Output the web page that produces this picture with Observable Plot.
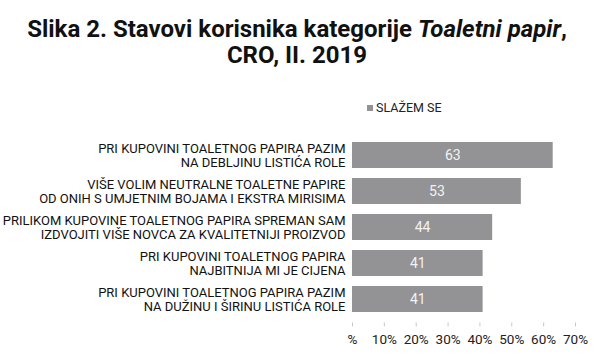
<!DOCTYPE html>
<html>
<head>
<meta charset="utf-8">
<script src="https://cdn.jsdelivr.net/npm/d3@7"></script>
<script src="https://cdn.jsdelivr.net/npm/@observablehq/plot@0.6"></script>
<style>
  html, body { margin: 0; padding: 0; background: #fff; }
  #wrap { position: relative; width: 594px; height: 364px; overflow: hidden; background: #fff; }
  #title { position: absolute; left: 0; top: 16px; width: 594px; text-align: center;
    font-family: Roboto, "Liberation Sans", sans-serif; font-weight: 700; font-size: 24px;
    line-height: 26px; color: #111; }
  #legend { position: absolute; left: 367px; top: 100px; font-family: Roboto, "Liberation Sans", sans-serif;
    font-size: 12.5px; color: #222; display: flex; align-items: center; }
  #legend span.sw { display: inline-block; width: 6px; height: 6px; background: #939396; margin-right: 3px; }
  #chart { position: absolute; left: 0; top: 95px; }
</style>
</head>
<body>
<div id="wrap">
  <div id="title">Slika 2. Stavovi korisnika kategorije <i>Toaletni papir</i>,<br>CRO, II. 2019</div>
  <div id="legend"><span class="sw"></span>SLAŽEM SE</div>
  <div id="chart"></div>
</div>
<script>
const categories = [
  "PRI KUPOVINI TOALETNOG PAPIRA PAZIM\nNA DEBLJINU LISTIĆA ROLE",
  "VIŠE VOLIM NEUTRALNE TOALETNE PAPIRE\nOD ONIH S UMJETNIM BOJAMA I EKSTRA MIRISIMA",
  "PRILIKOM KUPOVINE TOALETNOG PAPIRA SPREMAN SAM\nIZDVOJITI VIŠE NOVCA ZA KVALITETNIJI PROIZVOD",
  "PRI KUPOVINI TOALETNOG PAPIRA\nNAJBITNIJA MI JE CIJENA",
  "PRI KUPOVINI TOALETNOG PAPIRA PAZIM\nNA DUŽINU I ŠIRINU LISTIĆA ROLE"
];
const values = [63, 53, 44, 41, 41];
const xTicks = [0, 10, 20, 30, 40, 50, 60, 70];
const seriesName = "SLAŽEM SE";

const data = categories.map((c, i) => ({category: c, value: values[i]}));
const fmt = d => d === 0 ? "%" : d + "%";

const chart = Plot.plot({
  width: 594,
  height: 269,
  marginLeft: 352,
  marginRight: 19,
  marginTop: 36.5,
  marginBottom: 41.5,
  style: {fontFamily: "Roboto, 'Liberation Sans', sans-serif", background: "transparent"},
  x: {domain: [0, 70], label: null},
  y: {domain: categories, padding: 0.29, label: null},
  marks: [
    Plot.barX(data, {x: "value", y: "category", fill: "#939396"}),
    Plot.text(data, {x: d => d.value / 2, y: "category", text: d => String(d.value), fill: "#f2f2f2", fontSize: 14}),
    Plot.axisY({tickSize: 0, tickPadding: 7, fontSize: 13, lineHeight: 1.1, fill: "#111"}),
    Plot.ruleY([0], {frameAnchor: "bottom", stroke: "#c8c8c8"}),
    Plot.axisX({ticks: xTicks, tickFormat: fmt, tickSize: 4, tickPadding: 7, fontSize: 13.5, stroke: "#c8c8c8", fill: "#222", label: null})
  ]
});
document.getElementById("chart").appendChild(chart);
</script>
</body>
</html>
